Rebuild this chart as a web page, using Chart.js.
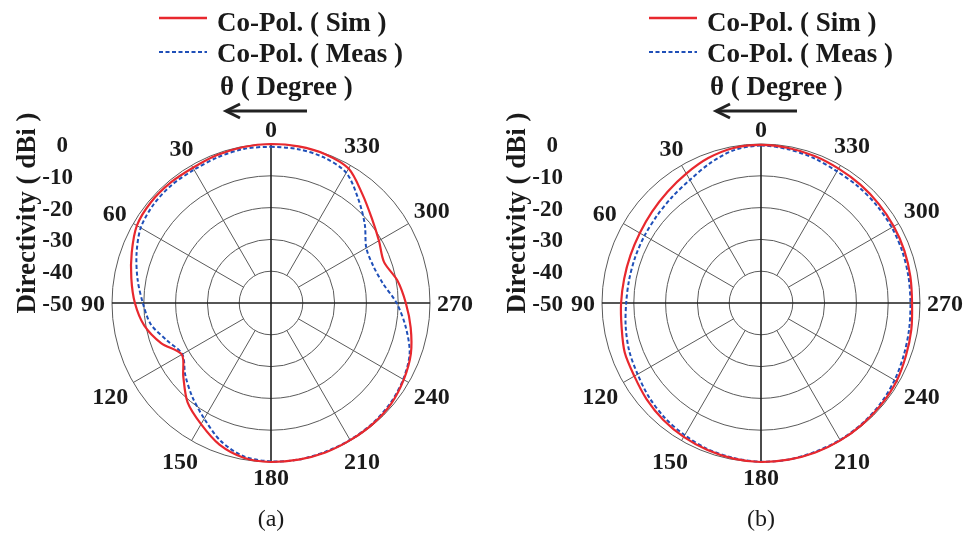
<!DOCTYPE html>
<html>
<head>
<meta charset="utf-8">
<script src="https://cdn.jsdelivr.net/npm/chart.js@4.4.1/dist/chart.umd.min.js"></script>
<style>
  html, body { margin: 0; padding: 0; background: #fff; }
  #wrap { position: relative; width: 966px; height: 533px; overflow: hidden; }
  canvas { position: absolute; top: 0; }
  #chartA { left: 0; }
  #chartB { left: 483px; }
</style>
</head>
<body>
<div id="wrap">
  <canvas id="chartA" width="483" height="533"></canvas>
  <canvas id="chartB" width="483" height="533"></canvas>
</div>
<script>
// theta in degrees, counter-clockwise from the top
const angles = [0, 10, 20, 30, 40, 50, 60, 70, 80, 90, 100, 110, 120, 130, 140, 150, 160, 170,
  180, 190, 200, 210, 220, 230, 240, 250, 260, 270, 280, 290, 300, 310, 320, 330, 340, 350];

// (a) directivity in dBi
const simA = [0, -0.2, -0.5, -0.9, -0.7, -0.7, -1.3, -3.4, -5.4, -7.2, -9.5, -13.2, -17.6, -14.0, -9.2, -6.0, -2.6, -0.6,
  0, 0, 0, -0.2, -0.3, -0.7, -1.8, -3.2, -5.4, -7.6, -9.6, -12.2, -10.8, -8.6, -5.3, -1.2, -0.2, 0];
const measA = [-0.9, -0.8, -1.2, -1.6, -1.5, -1.8, -2.7, -5.0, -7.4, -9.7, -11.6, -15.3, -17.8, -14.8, -11.5, -8.0, -3.8, -1.0,
  -0.2, 0, -0.2, -0.3, -0.5, -1.0, -2.0, -3.6, -7.0, -10.5, -14.3, -15.8, -15.4, -11.5, -7.3, -2.7, -1.3, -0.9];

// (b) directivity in dBi
const simB = [-0.3, -0.5, -1.5, -3.0, -4.3, -5.3, -6.0, -6.3, -6.3, -6.0, -5.5, -4.4, -4.0, -3.0, -2.1, -1.4, -0.8, -0.3,
  0, 0, 0, -0.1, -0.3, -0.5, -0.8, -1.5, -2.0, -2.5, -2.3, -2.0, -1.8, -1.6, -1.4, -1.2, -0.8, -0.5];
const measB = [-0.5, -1.2, -3.2, -5.3, -6.5, -7.3, -7.7, -7.9, -7.9, -7.6, -6.8, -5.9, -5.2, -4.0, -2.9, -2.0, -1.1, -0.5,
  -0.1, 0, -0.2, -0.3, -0.5, -0.9, -1.5, -2.2, -2.7, -3.0, -2.9, -2.7, -2.5, -2.4, -2.3, -2.2, -1.5, -0.9];

const rTicks = [0, -10, -20, -30, -40, -50];
const angleTicks = [0, 30, 60, 90, 120, 150, 180, 210, 240, 270, 300, 330];
const seriesNames = ['Co-Pol. ( Sim )', 'Co-Pol. ( Meas )'];
const angleTitle = 'θ ( Degree )';
const rTitle = 'Directivity ( dBi )';

const SERIF = '"Liberation Serif", "Times New Roman", serif';
const RED = '#e8282e';
const BLUE = '#1f4fb8';
const INK = '#1a1a1a';

// radar runs clockwise, so walk the angle list backwards after 0
const ccw = angles.map((a, i) => (angles.length - i) % angles.length);

const polarDecor = {
  id: 'polarDecor',
  beforeDatasetsDraw(chart) {
    const r = chart.scales.r;
    const ctx = chart.ctx;
    const inner = r.getDistanceFromCenterForValue(-40);
    const outer = r.getDistanceFromCenterForValue(0);
    ctx.save();
    ctx.strokeStyle = '#5a5a5a';
    ctx.lineWidth = 1;
    chart.data.labels.forEach((a, i) => {
      if (a % 30 !== 0 || a % 90 === 0) return;
      const p0 = r.getPointPosition(i, inner);
      const p1 = r.getPointPosition(i, outer);
      ctx.beginPath();
      ctx.moveTo(p0.x, p0.y);
      ctx.lineTo(p1.x, p1.y);
      ctx.stroke();
    });
    ctx.restore();
  },
  afterDraw(chart, args, opts) {
    const r = chart.scales.r;
    const ctx = chart.ctx;
    const xc = r.xCenter, yc = r.yCenter;
    const outer = r.getDistanceFromCenterForValue(0);
    ctx.save();
    ctx.fillStyle = INK;

    // angle labels
    ctx.font = 'bold 24px ' + SERIF;
    ctx.textAlign = 'center';
    ctx.textBaseline = 'alphabetic';
    const h = 16;
    chart.data.labels.forEach((a, i) => {
      if (!angleTicks.includes(a)) return;
      const p = r.getPointPosition(i, outer);
      const ux = (p.x - xc) / outer, uy = (p.y - yc) / outer;
      const w = ctx.measureText(String(a)).width;
      const ext = 7 + Math.abs(ux) * w / 2 + Math.abs(uy) * h / 2;
      ctx.fillText(String(a), p.x + ux * ext, p.y + uy * ext + h / 2);
    });

    // radial tick labels on the left
    ctx.font = 'bold 23px ' + SERIF;
    ctx.textAlign = 'right';
    rTicks.forEach(v => {
      const y = yc - r.getDistanceFromCenterForValue(v);
      ctx.fillText(String(v), v === 0 ? xc - 203 : xc - 198, y + 8);
    });

    // radial title
    ctx.save();
    ctx.translate(xc - 243, 213);
    ctx.rotate(-Math.PI / 2);
    ctx.font = 'bold 27px ' + SERIF;
    ctx.textAlign = 'center';
    ctx.textBaseline = 'middle';
    ctx.fillText(rTitle, 0, 0);
    ctx.restore();

    // legend
    ctx.lineWidth = 2.5;
    ctx.strokeStyle = RED;
    ctx.beginPath(); ctx.moveTo(xc - 112, 18); ctx.lineTo(xc - 64, 18); ctx.stroke();
    ctx.lineWidth = 2;
    ctx.strokeStyle = BLUE;
    ctx.setLineDash([4, 2.5]);
    ctx.beginPath(); ctx.moveTo(xc - 112, 52); ctx.lineTo(xc - 64, 52); ctx.stroke();
    ctx.setLineDash([]);
    ctx.font = 'bold 27px ' + SERIF;
    ctx.textAlign = 'left';
    ctx.fillText(seriesNames[0], xc - 54, 31);
    ctx.fillText(seriesNames[1], xc - 54, 62);
    ctx.fillText(angleTitle, xc - 51, 95);

    // direction arrow
    ctx.strokeStyle = '#222';
    ctx.lineWidth = 3;
    ctx.beginPath(); ctx.moveTo(xc + 36, 111); ctx.lineTo(xc - 44, 111); ctx.stroke();
    ctx.beginPath();
    ctx.moveTo(xc - 31, 104); ctx.lineTo(xc - 45, 111); ctx.lineTo(xc - 31, 118);
    ctx.stroke();

    // caption
    ctx.font = '24px ' + SERIF;
    ctx.textAlign = 'center';
    ctx.fillText(opts.caption, xc, 526);
    ctx.restore();
  }
};

function makeChart(id, sim, meas, caption, padLeft, padRight) {
  return new Chart(document.getElementById(id), {
    type: 'radar',
    data: {
      labels: ccw.map(k => angles[k]),
      datasets: [
        { label: seriesNames[0], data: ccw.map(k => sim[k]), borderColor: RED, borderWidth: 2.2, tension: 0.3 },
        { label: seriesNames[1], data: ccw.map(k => meas[k]), borderColor: BLUE, borderWidth: 2, borderDash: [4, 2.5], tension: 0.3 }
      ]
    },
    options: {
      responsive: false,
      animation: false,
      layout: { padding: { left: padLeft, right: padRight, top: 144, bottom: 71 } },
      elements: { point: { radius: 0 }, line: { fill: false } },
      plugins: { legend: { display: false }, tooltip: { enabled: false }, polarDecor: { caption } },
      scales: {
        r: {
          min: -50,
          max: 0,
          ticks: { display: false, stepSize: 10 },
          pointLabels: { display: false },
          grid: {
            circular: true,
            lineWidth: 1,
            color: ctx => (ctx.tick && ctx.tick.value === -50 ? 'rgba(0,0,0,0)' : '#5a5a5a')
          },
          angleLines: {
            lineWidth: 1.6,
            color: ctx => (ctx.label % 90 === 0 ? '#1e1e1e' : 'rgba(0,0,0,0)')
          }
        }
      }
    },
    plugins: [polarDecor]
  });
}

makeChart('chartA', simA, measA, '(a)', 112, 53);
makeChart('chartB', simB, measB, '(b)', 119, 46);
</script>
</body>
</html>
